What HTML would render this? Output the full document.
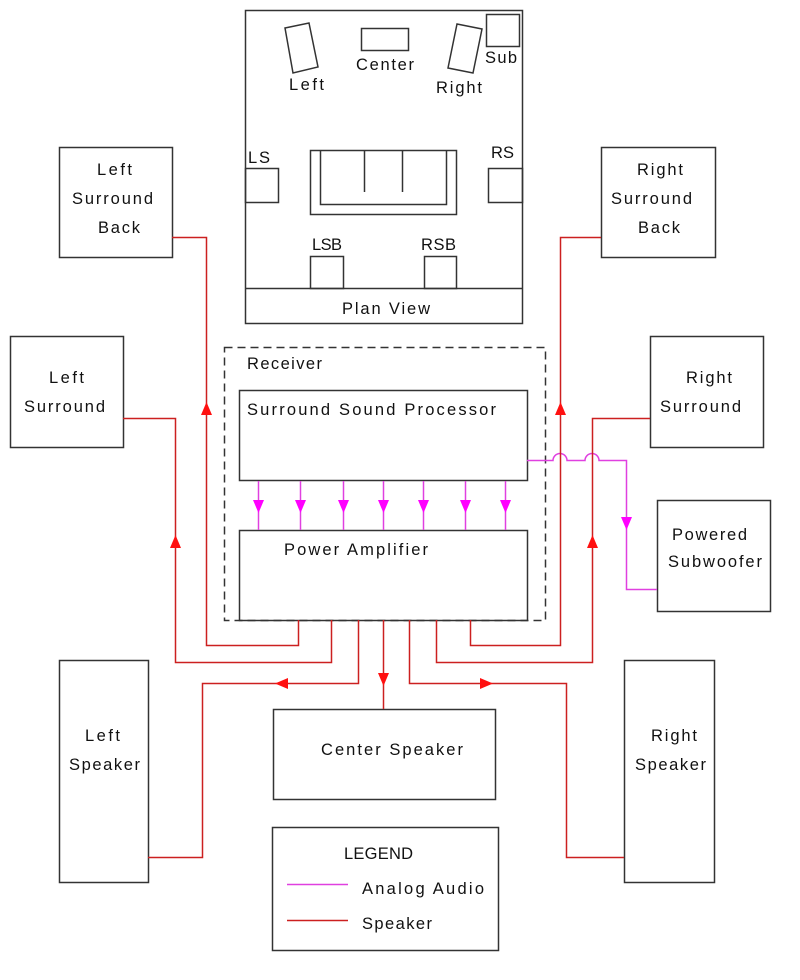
<!DOCTYPE html>
<html><head><meta charset="utf-8"><style>
html,body{margin:0;padding:0;background:#fff;}
svg{display:block;}
text{font-family:"Liberation Sans",sans-serif;font-size:16.5px;fill:#111;}
</style></head><body>
<svg width="800" height="980" viewBox="0 0 800 980" xmlns="http://www.w3.org/2000/svg">
<g fill="none" stroke="#333" stroke-width="1.5">
<rect x="245.5" y="10.5" width="277" height="313"/>
<line x1="245" y1="288.5" x2="523" y2="288.5"/>
<polygon points="285,28 309,23 318,67 293,73"/>
<rect x="361.5" y="28.5" width="47" height="22"/>
<polygon points="457,24 482,29 473,73 448,68"/>
<rect x="486.5" y="14.5" width="33" height="32"/>
<rect x="245.5" y="168.5" width="33" height="34"/>
<rect x="488.5" y="168.5" width="34" height="34"/>
<rect x="310.5" y="150.5" width="146" height="64"/>
<polyline points="320.5,150 320.5,204.5 446.5,204.5 446.5,150"/>
<line x1="364.5" y1="150" x2="364.5" y2="192"/>
<line x1="402.5" y1="150" x2="402.5" y2="192"/>
<rect x="310.5" y="256.5" width="33" height="32"/>
<rect x="424.5" y="256.5" width="32" height="32"/>
<rect x="224.5" y="347.5" width="321" height="273" stroke-dasharray="8,5"/>
<rect x="239.5" y="390.5" width="288" height="90"/>
<rect x="239.5" y="530.5" width="288" height="90"/>
<rect x="59.5" y="147.5" width="113" height="110"/>
<rect x="601.5" y="147.5" width="114" height="110"/>
<rect x="10.5" y="336.5" width="113" height="111"/>
<rect x="650.5" y="336.5" width="113" height="111"/>
<rect x="657.5" y="500.5" width="113" height="111"/>
<rect x="59.5" y="660.5" width="89" height="222"/>
<rect x="624.5" y="660.5" width="90" height="222"/>
<rect x="273.5" y="709.5" width="222" height="90"/>
<rect x="272.5" y="827.5" width="226" height="123"/>
</g>
<g fill="none" stroke="#e040e0" stroke-width="1.5">
<line x1="258.5" y1="481" x2="258.5" y2="530"/>
<line x1="300.5" y1="481" x2="300.5" y2="530"/>
<line x1="343.5" y1="481" x2="343.5" y2="530"/>
<line x1="383.5" y1="481" x2="383.5" y2="530"/>
<line x1="423.5" y1="481" x2="423.5" y2="530"/>
<line x1="465.5" y1="481" x2="465.5" y2="530"/>
<line x1="505.5" y1="481" x2="505.5" y2="530"/>
<path d="M527,460.5 H553 A7,7 0 0 1 567,460.5 H585 A7,7 0 0 1 599,460.5 H626.5 V589.5 H657"/>
<line x1="287" y1="884.5" x2="348" y2="884.5"/>
</g>
<g fill="#ff00ff">
<polygon points="253,500 264,500 258.5,513"/>
<polygon points="295,500 306,500 300.5,513"/>
<polygon points="338,500 349,500 343.5,513"/>
<polygon points="378,500 389,500 383.5,513"/>
<polygon points="418,500 429,500 423.5,513"/>
<polygon points="460,500 471,500 465.5,513"/>
<polygon points="500,500 511,500 505.5,513"/>
<polygon points="621,517 632,517 626.5,530"/>
</g>
<g fill="none" stroke="#cc2020" stroke-width="1.5">
<polyline points="298.5,620 298.5,645.5 206.5,645.5 206.5,237.5 172,237.5"/>
<polyline points="331.5,620 331.5,662.5 175.5,662.5 175.5,418.5 123,418.5"/>
<polyline points="358.5,620 358.5,683.5 202.5,683.5 202.5,857.5 148,857.5"/>
<line x1="383.5" y1="620" x2="383.5" y2="709"/>
<polyline points="409.5,620 409.5,683.5 566.5,683.5 566.5,857.5 624,857.5"/>
<polyline points="436.5,620 436.5,662.5 592.5,662.5 592.5,418.5 650,418.5"/>
<polyline points="470.5,620 470.5,645.5 560.5,645.5 560.5,237.5 601,237.5"/>
<line x1="287" y1="920.5" x2="348" y2="920.5"/>
</g>
<g fill="#ff1010">
<polygon points="206.5,402 201,415 212,415"/>
<polygon points="560.5,402 555,415 566,415"/>
<polygon points="175.5,535 170,548 181,548"/>
<polygon points="592.5,535 587,548 598,548"/>
<polygon points="275,683.5 288,678 288,689"/>
<polygon points="493,683.5 480,678 480,689"/>
<polygon points="383.5,686 378,673 389,673"/>
</g>
<g>
<text x="289" y="90" textLength="35" lengthAdjust="spacing">Left</text>
<text x="356" y="70" textLength="58" lengthAdjust="spacing">Center</text>
<text x="436" y="93" textLength="46" lengthAdjust="spacing">Right</text>
<text x="485" y="63" textLength="32" lengthAdjust="spacing">Sub</text>
<text x="248" y="163" textLength="22" lengthAdjust="spacing">LS</text>
<text x="491" y="158" textLength="23" lengthAdjust="spacing">RS</text>
<text x="312" y="250" textLength="30" lengthAdjust="spacing">LSB</text>
<text x="421" y="250" textLength="35" lengthAdjust="spacing">RSB</text>
<text x="342" y="314" textLength="88" lengthAdjust="spacing">Plan View</text>
<text x="97" y="175" textLength="35" lengthAdjust="spacing">Left</text>
<text x="72" y="204" textLength="81" lengthAdjust="spacing">Surround</text>
<text x="98" y="233" textLength="42" lengthAdjust="spacing">Back</text>
<text x="637" y="175" textLength="46" lengthAdjust="spacing">Right</text>
<text x="611" y="204" textLength="81" lengthAdjust="spacing">Surround</text>
<text x="638" y="233" textLength="42" lengthAdjust="spacing">Back</text>
<text x="49" y="383" textLength="35" lengthAdjust="spacing">Left</text>
<text x="24" y="412" textLength="81" lengthAdjust="spacing">Surround</text>
<text x="686" y="383" textLength="46" lengthAdjust="spacing">Right</text>
<text x="660" y="412" textLength="81" lengthAdjust="spacing">Surround</text>
<text x="672" y="540" textLength="75" lengthAdjust="spacing">Powered</text>
<text x="668" y="567" textLength="94" lengthAdjust="spacing">Subwoofer</text>
<text x="247" y="369" textLength="75" lengthAdjust="spacing">Receiver</text>
<text x="247" y="415" textLength="249" lengthAdjust="spacing">Surround Sound Processor</text>
<text x="284" y="555" textLength="144" lengthAdjust="spacing">Power Amplifier</text>
<text x="85" y="741" textLength="35" lengthAdjust="spacing">Left</text>
<text x="69" y="770" textLength="71" lengthAdjust="spacing">Speaker</text>
<text x="651" y="741" textLength="46" lengthAdjust="spacing">Right</text>
<text x="635" y="770" textLength="71" lengthAdjust="spacing">Speaker</text>
<text x="321" y="755" textLength="142" lengthAdjust="spacing">Center Speaker</text>
<text x="344" y="859" textLength="69" lengthAdjust="spacing">LEGEND</text>
<text x="362" y="894" textLength="122" lengthAdjust="spacing">Analog Audio</text>
<text x="362" y="929" textLength="70" lengthAdjust="spacing">Speaker</text>
</g>
</svg>
</body></html>
